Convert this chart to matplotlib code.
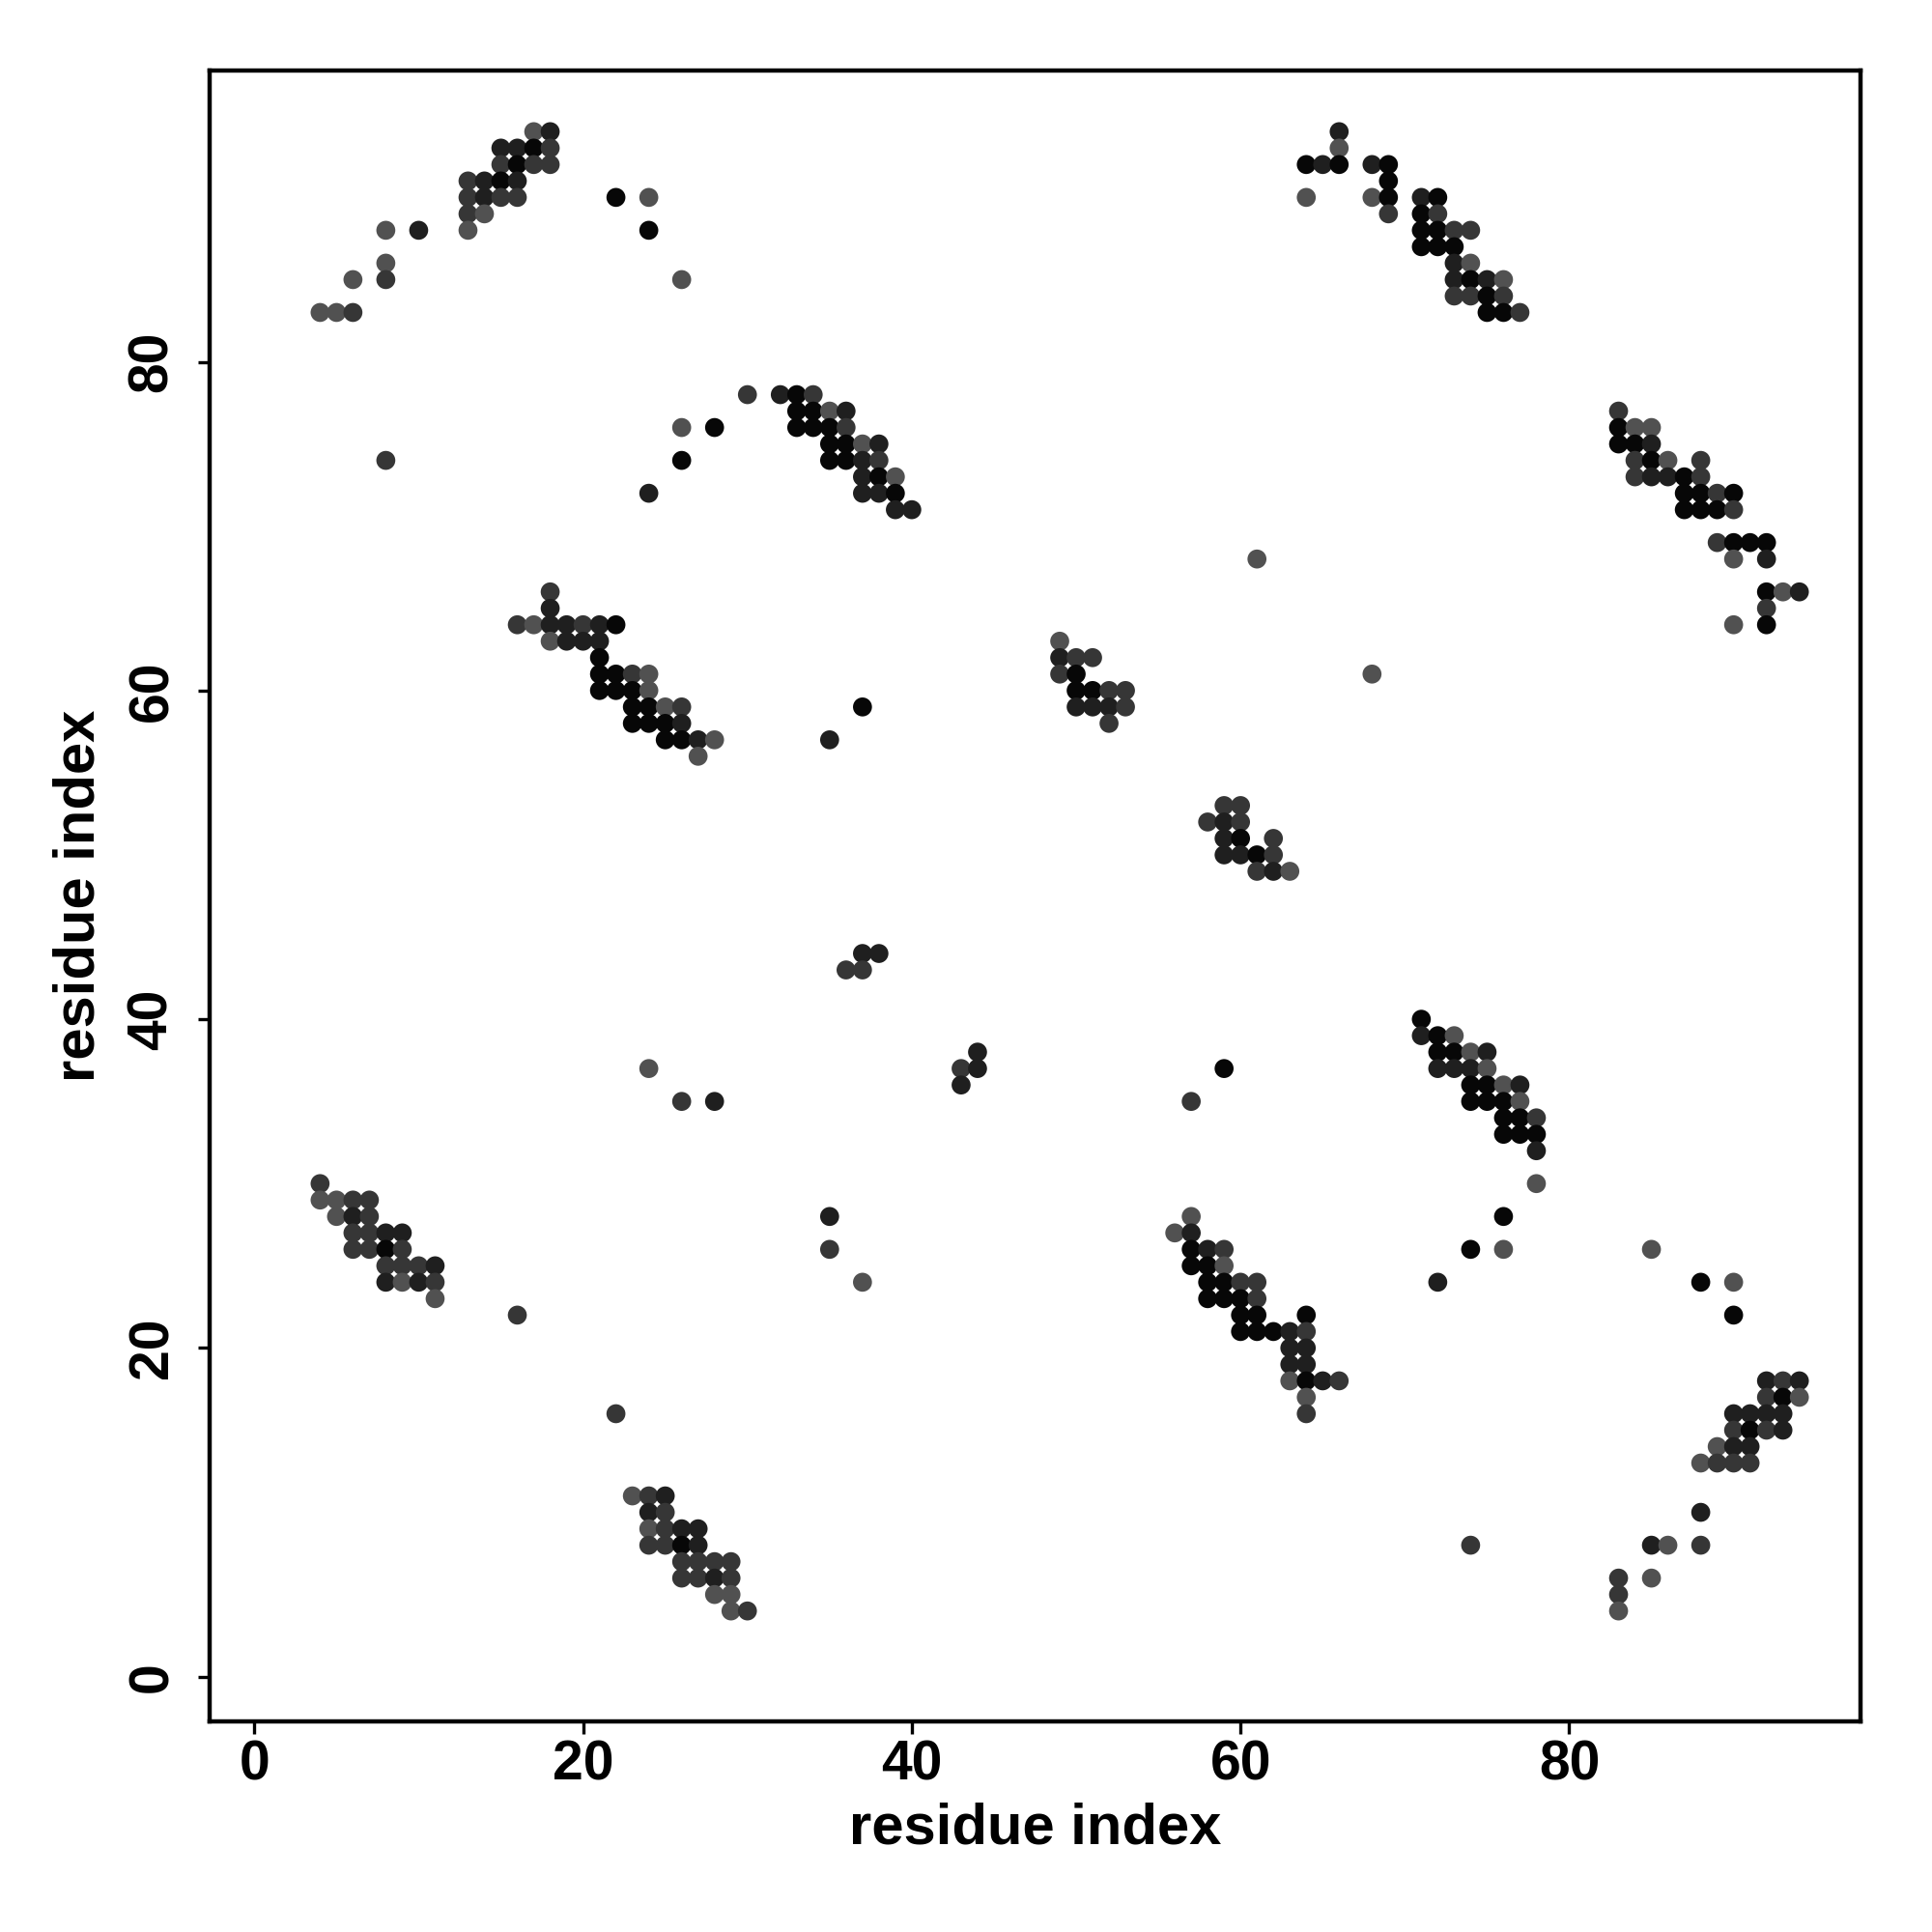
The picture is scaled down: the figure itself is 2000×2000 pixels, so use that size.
import numpy as np
import matplotlib
matplotlib.use('Agg')
import matplotlib.pyplot as plt

# contact map: for each row (residue j) the residues i in contact and a shade code
row_y = [94, 93, 92, 91, 90, 89, 88, 87, 86, 85, 84, 83,
         78, 77, 76, 75, 74, 73, 72, 71, 69, 68, 66, 65, 64, 63, 62, 61, 60,
         59, 58, 57, 56, 53, 52, 51, 50, 49, 44, 43, 40, 39, 38, 37, 36, 35,
         34, 33, 32, 30, 29, 28, 27, 26, 25, 24, 23, 22, 21, 20, 19, 18, 17,
         16, 15, 14, 13, 11, 10, 9, 8, 7, 6, 5, 4]

row_x = [
    [17, 18, 66],
    [15, 16, 17, 18, 66],
    [15, 16, 17, 18, 64, 65, 66, 68, 69],
    [13, 14, 15, 16, 69],
    [13, 14, 15, 16, 22, 24, 64, 68, 69, 71, 72],
    [13, 14, 69, 71, 72],
    [8, 10, 13, 24, 71, 72, 73, 74],
    [71, 72, 73],
    [8, 73, 74],
    [6, 8, 26, 73, 74, 75, 76],
    [73, 74, 75, 76],
    [4, 5, 6, 75, 76, 77],
    [30, 32, 33, 34],
    [33, 34, 35, 36, 83],
    [26, 28, 33, 34, 35, 36, 83, 84, 85],
    [35, 36, 37, 38, 83, 84, 85],
    [8, 26, 35, 36, 37, 38, 84, 85, 86, 88],
    [37, 38, 39, 84, 85, 86, 87, 88],
    [24, 37, 38, 39, 87, 88, 89, 90],
    [39, 40, 87, 88, 89, 90],
    [89, 90, 91, 92],
    [61, 90, 92],
    [18, 92, 93, 94],
    [18, 92],
    [16, 17, 18, 19, 20, 21, 22, 90, 92],
    [18, 19, 20, 21, 49],
    [21, 49, 50, 51],
    [21, 22, 23, 24, 49, 50, 68],
    [21, 22, 23, 24, 50, 51, 52, 53],
    [23, 24, 25, 26, 37, 50, 51, 52, 53],
    [23, 24, 25, 26, 52],
    [25, 26, 27, 28, 35],
    [27],
    [59, 60],
    [58, 59, 60],
    [59, 60, 62],
    [59, 60, 61, 62],
    [61, 62, 63],
    [37, 38],
    [36, 37],
    [71],
    [71, 72, 73],
    [44, 72, 73, 74, 75],
    [24, 43, 44, 59, 72, 73, 74, 75],
    [43, 74, 75, 76, 77],
    [26, 28, 57, 74, 75, 76, 77],
    [76, 77, 78],
    [76, 77, 78],
    [78],
    [4, 78],
    [4, 5, 6, 7],
    [5, 6, 7, 35, 57, 76],
    [6, 7, 8, 9, 56, 57],
    [6, 7, 8, 9, 35, 57, 58, 59, 74, 76, 85],
    [8, 9, 10, 11, 57, 58, 59],
    [8, 9, 10, 11, 37, 58, 59, 60, 61, 72, 88, 90],
    [11, 58, 59, 60, 61],
    [16, 60, 61, 64, 90],
    [60, 61, 62, 63, 64],
    [63, 64],
    [63, 64],
    [63, 64, 65, 66, 92, 93, 94],
    [64, 92, 93, 94],
    [22, 64, 90, 91, 92, 93],
    [90, 91, 92, 93],
    [89, 90, 91],
    [88, 89, 90, 91],
    [23, 24, 25],
    [24, 25, 88],
    [24, 25, 26, 27],
    [24, 25, 26, 27, 74, 85, 86, 88],
    [26, 27, 28, 29],
    [26, 27, 28, 29, 83, 85],
    [28, 29, 83],
    [29, 30, 83],
]

# k = strongest (black) ... g = weakest (gray)
row_shade = [
    "gdd", "ddkmg", "mkmmkdkdk", "mdkdk", "mdmmkgggkdk", "mgmkm",
    "gdgkkkmm", "kkk", "gdg", "gmgdkdg", "mmkm", "ggmkkm",
    "mdkm", "kkgdm", "gkkkkmkgg", "kkgdkkd", "mkkkdmmkgm", "dkgmddkm",
    "dddkkkmk", "ddkkkm", "mkkk", "ggd", "mkgd", "dm", "mgddmdkgk",
    "gdddg", "kdmm", "kkmgmkg", "kkkgkkmm", "kkgmkdddm", "kkkdm", "kkdgd",
    "g", "mm", "mdm", "dkm", "ddkm", "mdg", "dd", "mm", "k", "dkg",
    "dkkgd", "gmdkdddg", "dkkgd", "mdmkkkg", "kkm", "kkk", "d", "mg",
    "ggmm", "gdmdgk", "mmddgd", "mmkmmkdmkgg", "mmmdkkg", "dgdmgkkmmdkg",
    "gkkkm", "mkkkk", "kkkdm", "dd", "dd", "gkdmdmd", "gmkg", "mmdddd",
    "mkmd", "gdd", "gmmm", "gmd", "dmd", "gmdd", "mmkdmdgm", "mmmm",
    "mmdmmg", "ggm", "gmg",
]

shade_colors = {'k': '#070707', 'd': '#1f1f1f', 'm': '#363636', 'g': '#515151'}

xs, ys, cols = [], [], []
for y, xrow, srow in zip(row_y, row_x, row_shade):
    for x, s in zip(xrow, srow):
        xs.append(x)
        ys.append(y)
        cols.append(shade_colors[s])

plt.rcParams['font.family'] = ['Liberation Sans', 'DejaVu Sans']
plt.rcParams['font.weight'] = 'bold'

fig = plt.figure(figsize=(10, 10), dpi=200)
ax = fig.add_axes([0.1085, 0.109, 0.8545, 0.8545])

ax.scatter(xs, ys, s=50, c=cols, linewidths=0)

ax.set_xlim(-2.72, 97.72)
ax.set_ylim(-2.72, 97.72)
ticks = [0, 20, 40, 60, 80]
ax.set_xticks(ticks)
ax.set_yticks(ticks)

for sp in ax.spines.values():
    sp.set_linewidth(1.6)

ax.tick_params(axis='both', direction='out', length=4.5, width=1.2,
               labelsize=20.5)
ax.tick_params(axis='x', pad=2)
ax.tick_params(axis='y', pad=7)
for lab in ax.get_yticklabels():
    lab.set_rotation(90)
    lab.set_va('center')
    lab.set_ha('right')
for lab in ax.get_xticklabels() + ax.get_yticklabels():
    lab.set_fontweight('bold')

ax.set_xlabel('residue index', fontsize=21.5, fontweight='bold')
ax.set_ylabel('residue index', fontsize=21.5, fontweight='bold')
ax.xaxis.label.set_va('center')
ax.yaxis.label.set_va('center')
ax.xaxis.set_label_coords(0.5, -0.065)
ax.yaxis.set_label_coords(-0.079, 0.5)

fig.savefig('out.png', dpi=200, facecolor='white')
